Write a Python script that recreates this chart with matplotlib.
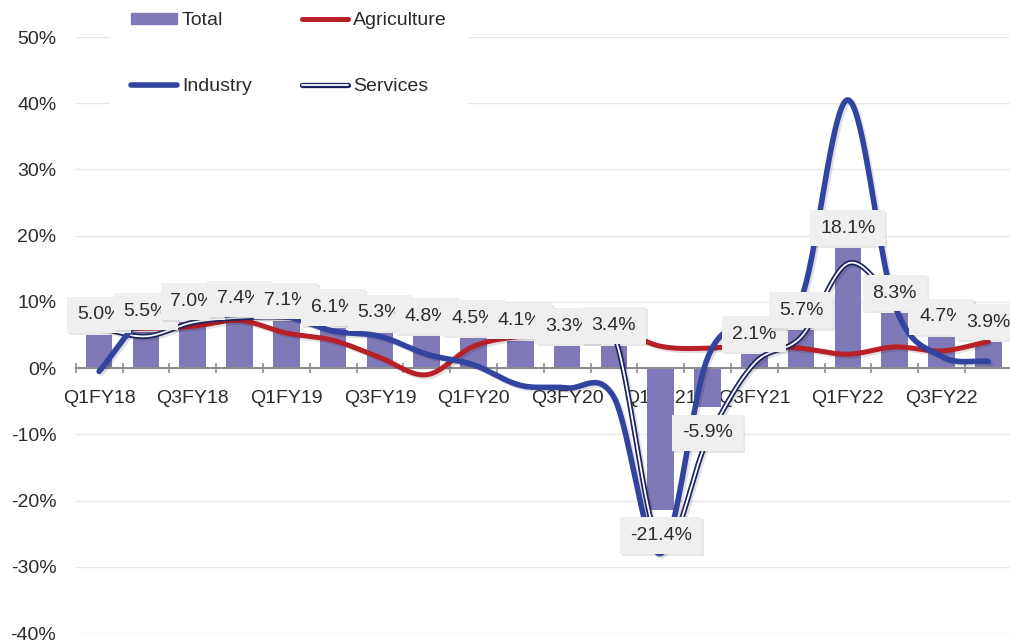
import numpy as np
import matplotlib
matplotlib.use("Agg")
import matplotlib.pyplot as plt
from matplotlib.lines import Line2D
from matplotlib.patches import Patch
from matplotlib.legend_handler import HandlerTuple
import matplotlib.patheffects as pe

plt.rcParams['font.family'] = ['Liberation Sans', 'DejaVu Sans']

quarters = ["Q1FY18", "Q2FY18", "Q3FY18", "Q4FY18",
            "Q1FY19", "Q2FY19", "Q3FY19", "Q4FY19",
            "Q1FY20", "Q2FY20", "Q3FY20", "Q4FY20",
            "Q1FY21", "Q2FY21", "Q3FY21", "Q4FY21",
            "Q1FY22", "Q2FY22", "Q3FY22", "Q4FY22"]
total = [5.0, 5.5, 7.0, 7.4, 7.1, 6.1, 5.3, 4.8, 4.5, 4.1,
         3.3, 3.4, -21.4, -5.9, 2.1, 5.7, 18.1, 8.3, 4.7, 3.9]
agriculture = [5.9, 6.0, 6.3, 7.2, 5.3, 4.2, 1.6, -1.0, 3.3, 4.8,
               5.3, 5.8, 3.3, 3.0, 3.5, 3.0, 2.1, 3.2, 2.6, 4.0]
industry = [-0.5, 7.8, 8.0, 8.2, 7.8, 5.6, 4.8, 2.1, 0.5, -2.6,
            -3.0, -4.4, -28.0, 1.5, 7.0, 10.5, 40.5, 9.5, 1.8, 1.0]
services = [6.1, 4.8, 6.9, 7.6, 7.7, 7.0, 6.6, 6.8, 6.5, 6.5,
            6.5, 5.0, -27.0, -10.8, 0.7, 4.7, 15.8, 10.5, 7.5, 5.2]
yticks = [-40, -30, -20, -10, 0, 10, 20, 30, 40, 50]

C_BAR = "#8079b8"
C_AGR = "#b82028"
C_IND = "#3343a0"
C_SER = "#1b2363"
TXT = "#2b2b2b"


def smooth(vals, n=40):
    y = np.asarray(vals, float)
    N = len(y)
    m = np.empty(N)
    m[1:-1] = (y[2:] - y[:-2]) / 2.0
    m[0] = y[1] - y[0]
    m[-1] = y[-1] - y[-2]
    xs, ys = [], []
    for i in range(N - 1):
        t = np.linspace(0, 1, n, endpoint=(i == N - 2))
        h00 = 2 * t**3 - 3 * t**2 + 1
        h10 = t**3 - 2 * t**2 + t
        h01 = -2 * t**3 + 3 * t**2
        h11 = t**3 - t**2
        xs.append(i + t)
        ys.append(h00 * y[i] + h10 * m[i] + h01 * y[i + 1] + h11 * m[i + 1])
    return np.concatenate(xs), np.concatenate(ys)


fig = plt.figure(figsize=(10.10, 6.41), dpi=100)
ax = fig.add_axes([75.7 / 1010, 8 / 641, 936 / 1010, 596 / 641])

x = np.arange(len(quarters))
shadow_line = [pe.SimpleLineShadow(offset=(1.5, -1.5), shadow_color='k', alpha=0.12), pe.Normal()]

ax.bar(x, total, width=0.57, color=C_BAR, zorder=2)

xa, ya = smooth(agriculture)
ax.plot(xa, ya, color=C_AGR, lw=3.6, zorder=3, solid_capstyle='round', path_effects=shadow_line)
xs_, ys_ = smooth(services)
ax.plot(xs_, ys_, color=C_SER, lw=3.8, zorder=3.1, solid_capstyle='round', path_effects=shadow_line)
ax.plot(xs_, ys_, color='white', lw=1.3, zorder=3.2, solid_capstyle='round')
xi, yi = smooth(industry)
ax.plot(xi, yi, color=C_IND, lw=4.0, zorder=3.3, solid_capstyle='round', path_effects=shadow_line)

for xv, v in zip(x, total):
    off = 14.5 if v >= 0 else -18.5
    t = ax.annotate(f"{v:.1f}%", (xv, v), xytext=(0, off), textcoords='offset points',
                    ha='center', va='center', fontsize=14, color=TXT, zorder=6,
                    bbox=dict(boxstyle='square,pad=0.5', fc='#efeff0', ec='none'))
    t.get_bbox_patch().set_path_effects([pe.SimplePatchShadow(offset=(1.5, -1.5), alpha=0.12), pe.Normal()])

ax.set_xlim(-0.5, len(quarters) - 0.5)
ax.set_ylim(-40, 50)
ax.set_yticks(yticks)
ax.set_yticklabels([f"{v}%" for v in yticks])
ax.set_xticks(x[::2])
ax.set_xticklabels(quarters[::2])
ax.set_xticks(np.arange(-0.5, len(quarters), 1.0), minor=True)
ax.tick_params(axis='x', which='major', length=0, pad=15.5, labelsize=14, labelcolor=TXT)
ax.tick_params(axis='x', which='minor', length=7.5, width=1.2, direction='inout', color='#8c8c8c')
ax.tick_params(axis='y', length=0, pad=14, labelsize=14, labelcolor=TXT)

for s in ['top', 'right', 'left']:
    ax.spines[s].set_visible(False)
ax.spines['bottom'].set_position(('data', 0))
ax.spines['bottom'].set_color('#8c8c8c')
ax.spines['bottom'].set_linewidth(1.5)
ax.spines['bottom'].set_zorder(2.5)
ax.grid(axis='y', color='#e6e6e6', lw=1.0, zorder=0)
ax.set_axisbelow(True)

h_total = Patch(color=C_BAR)
h_agr = Line2D([], [], color=C_AGR, lw=3.6, solid_capstyle='round')
h_ind = Line2D([], [], color=C_IND, lw=4.0, solid_capstyle='round')
h_ser = (Line2D([], [], color=C_SER, lw=3.8, solid_capstyle='round'),
         Line2D([], [], color='white', lw=1.3, solid_capstyle='round'))
leg = fig.legend([h_total, h_ind, h_agr, h_ser], ["Total", "Industry", "Agriculture", "Services"],
                 handler_map={tuple: HandlerTuple(ndivide=1)},
                 ncol=2, loc='upper left', bbox_to_anchor=(110 / 1010, 1.0 + 9 / 641),
                 frameon=True, fancybox=False, facecolor='white', edgecolor='none', framealpha=1,
                 fontsize=14, labelcolor=TXT, handlelength=2.35, handleheight=0.5,
                 handletextpad=0.25, columnspacing=2.6, labelspacing=2.5, borderpad=1.1,
                 borderaxespad=0)
leg.set_zorder(10)

fig.savefig("out.png", dpi=100)
